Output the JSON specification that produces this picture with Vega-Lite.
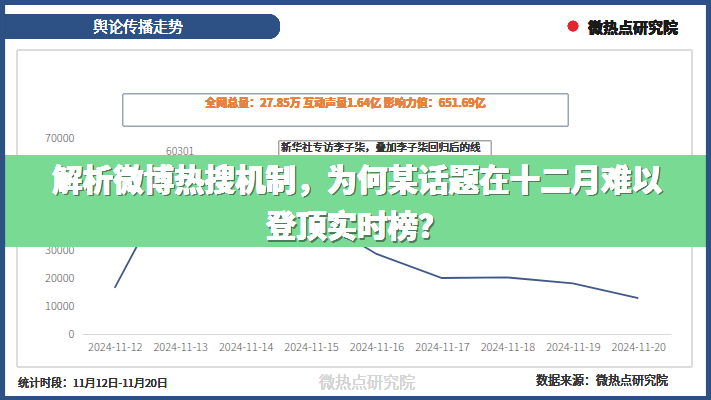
{
  "$schema": "https://vega.github.io/schema/vega-lite/v6.json",
  "autosize": {"type": "none"},
  "width": 589,
  "height": 196,
  "padding": {"left": 82, "top": 138, "right": 40, "bottom": 66},
  "background": "#ffffff",
  "config": {
    "view": {"stroke": null},
    "font": "Noto Sans CJK SC",
    "axis": {"titleFontSize": 0, "ticks": false, "grid": false, "labelOverlap": false, "labelColor": "#595959", "labelFontSize": 11, "labelFontWeight": 300},
    "axisX": {"domainColor": "#d9d9d9", "labelPadding": 7, "labelOverlap": false, "tickCount": 20},
    "axisY": {"domain": false, "labelPadding": 8, "labelOverlap": false, "tickCount": 10, "format": "d"}
  },
  "data": {
    "values": [
      {"date": "2024-11-12", "value": 16500},
      {"date": "2024-11-13", "value": 60301},
      {"date": "2024-11-14", "value": 54600},
      {"date": "2024-11-15", "value": 42500},
      {"date": "2024-11-16", "value": 28600},
      {"date": "2024-11-17", "value": 20000},
      {"date": "2024-11-18", "value": 20200},
      {"date": "2024-11-19", "value": 18100},
      {"date": "2024-11-20", "value": 12800}
    ]
  },
  "layer": [
    {
      "mark": {"type": "line", "color": "#40598a", "strokeWidth": 1.8, "clip": false},
      "encoding": {
        "x": {
          "field": "date", "type": "temporal", "title": null,
          "scale": {"type": "utc", "domain": [{"year": 2024, "month": 11, "date": 11, "hours": 12, "utc": true}, {"year": 2024, "month": 11, "date": 20, "hours": 12, "utc": true}]},
          "axis": {
            "title": null, "format": "%Y-%m-%d", "labelOverlap": false, "tickCount": 20,
            "values": [
              {"year": 2024, "month": 11, "date": 12, "utc": true},
              {"year": 2024, "month": 11, "date": 13, "utc": true},
              {"year": 2024, "month": 11, "date": 14, "utc": true},
              {"year": 2024, "month": 11, "date": 15, "utc": true},
              {"year": 2024, "month": 11, "date": 16, "utc": true},
              {"year": 2024, "month": 11, "date": 17, "utc": true},
              {"year": 2024, "month": 11, "date": 18, "utc": true},
              {"year": 2024, "month": 11, "date": 19, "utc": true},
              {"year": 2024, "month": 11, "date": 20, "utc": true}
            ]
          }
        },
        "y": {
          "field": "value", "type": "quantitative", "title": null,
          "scale": {"domain": [0, 70000], "nice": false},
          "axis": {"title": null, "values": [0, 10000, 20000, 30000, 40000, 50000, 60000, 70000], "tickCount": 10, "format": "d", "labelOverlap": false}
        }
      }
    },
    {
      "mark": {"type": "rect", "fill": null, "stroke": "#dcdcdc", "strokeWidth": 1, "clip": false},
      "encoding": {
        "x": {"datum": {"year": 2024, "month": 11, "date": 10, "hours": 12, "minutes": 10, "utc": true}, "type": "temporal"},
        "x2": {"datum": {"year": 2024, "month": 11, "date": 20, "hours": 19, "minutes": 42, "utc": true}},
        "y": {"datum": 101429, "type": "quantitative"},
        "y2": {"datum": -11786}
      }
    },
    {
      "mark": {"type": "rect", "fill": "#2d5184", "cornerRadius": 12, "clip": false},
      "encoding": {
        "x": {"datum": {"year": 2024, "month": 11, "date": 10, "hours": 0, "utc": true}, "type": "temporal"},
        "x2": {"datum": {"year": 2024, "month": 11, "date": 14, "hours": 12, "minutes": 37, "utc": true}},
        "y": {"datum": 114286, "type": "quantitative"},
        "y2": {"datum": 105357}
      }
    },
    {
      "mark": {"type": "text", "text": "舆论传播走势", "color": "#ffffff", "fontSize": 15, "fontWeight": 300, "align": "center", "baseline": "middle", "clip": false},
      "encoding": {
        "x": {"datum": {"year": 2024, "month": 11, "date": 12, "hours": 8, "minutes": 32, "utc": true}, "type": "temporal"},
        "y": {"datum": 109643, "type": "quantitative"}
      }
    },
    {
      "mark": {"type": "point", "filled": true, "color": "#e3262d", "size": 110, "clip": false},
      "encoding": {
        "x": {"datum": {"year": 2024, "month": 11, "date": 19, "hours": 0, "minutes": 4, "utc": true}, "type": "temporal"},
        "y": {"datum": 110000, "type": "quantitative"}
      }
    },
    {
      "mark": {"type": "text", "text": "微热点研究院", "color": "#1a1a1a", "fontSize": 15, "fontWeight": "bold", "align": "left", "baseline": "middle", "clip": false},
      "encoding": {
        "x": {"datum": {"year": 2024, "month": 11, "date": 19, "hours": 5, "minutes": 34, "utc": true}, "type": "temporal"},
        "y": {"datum": 109286, "type": "quantitative"}
      }
    },
    {
      "mark": {"type": "rect", "fill": "#ffffff", "stroke": "#98a4b0", "strokeWidth": 1, "clip": false},
      "encoding": {
        "x": {"datum": {"year": 2024, "month": 11, "date": 12, "hours": 3, "minutes": 2, "utc": true}, "type": "temporal"},
        "x2": {"datum": {"year": 2024, "month": 11, "date": 18, "hours": 22, "minutes": 14, "utc": true}},
        "y": {"datum": 85714, "type": "quantitative"},
        "y2": {"datum": 74286}
      }
    },
    {
      "mark": {"type": "text", "text": "全网总量：27.85万  互动声量1.64亿  影响力值：651.69亿", "color": "#e8813a", "fontSize": 11, "fontWeight": "bold", "align": "center", "baseline": "middle", "clip": false},
      "encoding": {
        "x": {"datum": {"year": 2024, "month": 11, "date": 15, "hours": 12, "minutes": 38, "utc": true}, "type": "temporal"},
        "y": {"datum": 82143, "type": "quantitative"}
      }
    },
    {
      "transform": [{"filter": "datum.value > 60000"}],
      "mark": {"type": "text", "color": "#595959", "fontSize": 10.5, "fontWeight": 300, "dy": -13, "baseline": "middle", "clip": false},
      "encoding": {
        "x": {"field": "date", "type": "temporal"},
        "y": {"field": "value", "type": "quantitative"},
        "text": {"field": "value", "type": "quantitative", "format": "d"}
      }
    },
    {
      "transform": [{"filter": "datum.value > 60000"}],
      "mark": {"type": "rule", "color": "#8c8c8c", "strokeWidth": 0.8, "clip": false},
      "encoding": {
        "x": {"field": "date", "type": "temporal"},
        "y": {"field": "value", "type": "quantitative"},
        "x2": {"datum": {"year": 2024, "month": 11, "date": 14, "hours": 11, "minutes": 31, "utc": true}},
        "y2": {"datum": 60357}
      }
    },
    {
      "mark": {"type": "rect", "fill": "#ffffff", "stroke": "#a6a6a6", "strokeWidth": 1, "clip": false},
      "encoding": {
        "x": {"datum": {"year": 2024, "month": 11, "date": 14, "hours": 12, "minutes": 14, "utc": true}, "type": "temporal"},
        "x2": {"datum": {"year": 2024, "month": 11, "date": 17, "hours": 18, "utc": true}},
        "y": {"datum": 68929, "type": "quantitative"},
        "y2": {"datum": 59286}
      }
    },
    {
      "mark": {"type": "text", "text": "新华社专访李子柒，叠加李子柒回归后的线", "color": "#333333", "fontSize": 10.5, "fontWeight": 300, "align": "left", "baseline": "middle", "clip": false},
      "encoding": {
        "x": {"datum": {"year": 2024, "month": 11, "date": 14, "hours": 12, "minutes": 59, "utc": true}, "type": "temporal"},
        "y": {"datum": 66429, "type": "quantitative"}
      }
    },
    {
      "mark": {"type": "text", "text": "下首秀引发关注", "color": "#333333", "fontSize": 10.5, "fontWeight": 300, "align": "left", "baseline": "middle", "clip": false},
      "encoding": {
        "x": {"datum": {"year": 2024, "month": 11, "date": 14, "hours": 12, "minutes": 59, "utc": true}, "type": "temporal"},
        "y": {"datum": 61071, "type": "quantitative"}
      }
    },
    {
      "mark": {"type": "rect", "fill": "#79da94", "opacity": 0.86, "clip": false},
      "encoding": {
        "x": {"datum": {"year": 2024, "month": 11, "date": 10, "hours": 0, "utc": true}, "type": "temporal"},
        "x2": {"datum": {"year": 2024, "month": 11, "date": 21, "hours": 9, "utc": true}},
        "y": {"datum": 63929, "type": "quantitative"},
        "y2": {"datum": 31071}
      }
    },
    {
      "mark": {"type": "text", "text": "解析微博热搜机制，为何某话题在十二月难以", "color": "#4f7d5c", "opacity": 0.6, "fontSize": 30.5, "fontWeight": 900, "align": "center", "baseline": "middle", "dx": 1.5, "dy": 1.5, "clip": false},
      "encoding": {
        "x": {"datum": {"year": 2024, "month": 11, "date": 15, "hours": 16, "minutes": 51, "utc": true}, "type": "temporal"},
        "y": {"datum": 54286, "type": "quantitative"}
      }
    },
    {
      "mark": {"type": "text", "text": "登顶实时榜？", "color": "#4f7d5c", "opacity": 0.6, "fontSize": 30.5, "fontWeight": 900, "align": "center", "baseline": "middle", "dx": 1.5, "dy": 1.5, "clip": false},
      "encoding": {
        "x": {"datum": {"year": 2024, "month": 11, "date": 15, "hours": 16, "minutes": 51, "utc": true}, "type": "temporal"},
        "y": {"datum": 37857, "type": "quantitative"}
      }
    },
    {
      "mark": {"type": "text", "text": "解析微博热搜机制，为何某话题在十二月难以", "color": "#ffffff", "fontSize": 30.5, "fontWeight": 900, "align": "center", "baseline": "middle", "clip": false},
      "encoding": {
        "x": {"datum": {"year": 2024, "month": 11, "date": 15, "hours": 16, "minutes": 51, "utc": true}, "type": "temporal"},
        "y": {"datum": 54286, "type": "quantitative"}
      }
    },
    {
      "mark": {"type": "text", "text": "登顶实时榜？", "color": "#ffffff", "fontSize": 30.5, "fontWeight": 900, "align": "center", "baseline": "middle", "clip": false},
      "encoding": {
        "x": {"datum": {"year": 2024, "month": 11, "date": 15, "hours": 16, "minutes": 51, "utc": true}, "type": "temporal"},
        "y": {"datum": 37857, "type": "quantitative"}
      }
    },
    {
      "mark": {"type": "text", "text": "统计时段：11月12日-11月20日", "color": "#333333", "fontSize": 11, "fontWeight": 300, "align": "left", "baseline": "middle", "clip": false},
      "encoding": {
        "x": {"datum": {"year": 2024, "month": 11, "date": 10, "hours": 12, "minutes": 32, "utc": true}, "type": "temporal"},
        "y": {"datum": -17857, "type": "quantitative"}
      }
    },
    {
      "mark": {"type": "text", "text": "微热点研究院", "color": "#d4d4d4", "fontSize": 16, "fontWeight": 300, "align": "center", "baseline": "middle", "clip": false},
      "encoding": {
        "x": {"datum": {"year": 2024, "month": 11, "date": 15, "hours": 20, "minutes": 31, "utc": true}, "type": "temporal"},
        "y": {"datum": -17500, "type": "quantitative"}
      }
    },
    {
      "mark": {"type": "text", "text": "数据来源：微热点研究院", "color": "#333333", "fontSize": 12, "fontWeight": 300, "align": "right", "baseline": "middle", "clip": false},
      "encoding": {
        "x": {"datum": {"year": 2024, "month": 11, "date": 20, "hours": 10, "minutes": 54, "utc": true}, "type": "temporal"},
        "y": {"datum": -16786, "type": "quantitative"}
      }
    },
    {
      "mark": {"type": "rect", "fill": null, "stroke": "#2d5184", "strokeWidth": 10, "clip": false},
      "encoding": {
        "x": {"datum": {"year": 2024, "month": 11, "date": 10, "hours": 5, "minutes": 56, "utc": true}, "type": "temporal"},
        "x2": {"datum": {"year": 2024, "month": 11, "date": 21, "hours": 2, "minutes": 40, "utc": true}},
        "y": {"datum": 119286, "type": "quantitative"},
        "y2": {"datum": -23929}
      }
    }
  ]
}
